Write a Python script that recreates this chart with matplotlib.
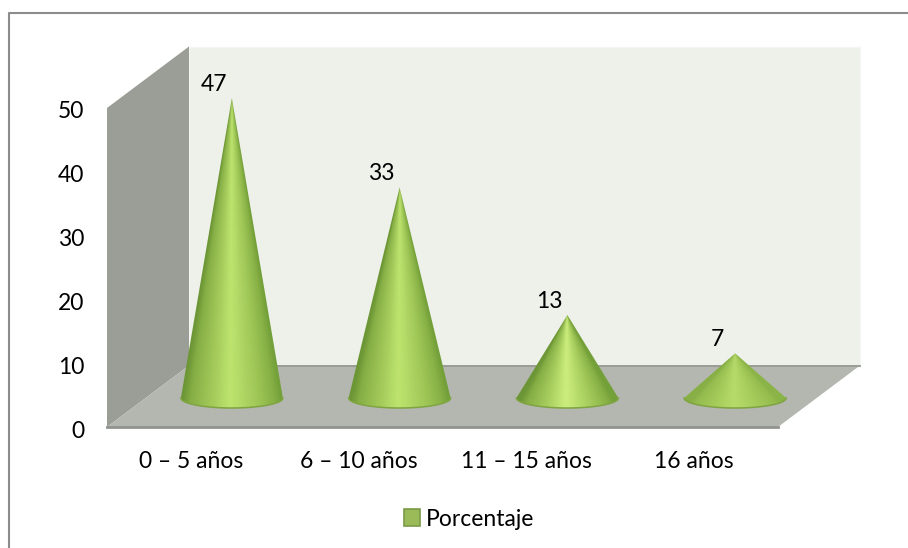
import numpy as np
import matplotlib
matplotlib.use("Agg")
import matplotlib.pyplot as plt
from matplotlib.colors import LinearSegmentedColormap, to_rgb
from matplotlib.lines import Line2D
from matplotlib.patches import Patch, Polygon
from matplotlib.transforms import ScaledTranslation

categories = ["0 – 5 años", "6 – 10 años", "11 – 15 años", "16 años"]
values = [47, 33, 13, 7]
series_name = "Porcentaje"
y_ticks = [0, 10, 20, 30, 40, 50]

plt.rcParams["font.family"] = ["Lato", "DejaVu Sans"]
W, H = 908, 548
FS = 16.5
fig = plt.figure(figsize=(W / 100, H / 100), dpi=100, facecolor="white")
ax = fig.add_axes([107 / W, 1 - 427 / H, (778 - 107) / W, (427 - 108) / H])
ax.set_xlim(-0.5, 3.5)
ax.set_ylim(0, 50)
ax.set_facecolor("none")
for s in ax.spines.values():
    s.set_visible(False)

# depth of the 3-D box, in data units
dx = 82 / (671 / 4)
dy = 61.5 / (319 / 50)
x0, x1, ymax = -0.5, 3.5, 50

ax.add_patch(Polygon([(x0 + dx, dy), (x1 + dx, dy), (x1 + dx, ymax + dy), (x0 + dx, ymax + dy)],
                     fc="#eef1ea", ec="#f4f6f1", lw=1, clip_on=False, zorder=1))
ax.add_patch(Polygon([(x0, 0), (x0 + dx, dy), (x0 + dx, ymax + dy), (x0, ymax)],
                     fc="#9b9d97", ec="none", clip_on=False, zorder=2))
ax.add_patch(Polygon([(x0, 0), (x1, 0), (x1 + dx, dy), (x0 + dx, dy)],
                     fc="#b3b7af", ec="none", clip_on=False, zorder=2))
ax.plot([x0 + dx, x1 + dx], [dy, dy], color="#979a94", lw=1.3, clip_on=False, zorder=3)
ax.plot([x0, x1], [0, 0], color="#909390", lw=2, clip_on=False, zorder=3)

stops = [(0.0, "#6d9636"), (0.08, "#85ae45"), (0.3, "#a3ca5a"), (0.48, "#bee46f"),
         (0.56, "#b6dc69"), (0.75, "#a0c858"), (0.92, "#88b146"), (1.0, "#74a03a")]
cone_map = LinearSegmentedColormap.from_list("cone", stops)

half_w = 51 / (671 / 4)
half_h = 10 / (319 / 50)
cx_off = dx / 2
base_y = 29 / (319 / 50)

for i, v in enumerate(values):
    cx = i + cx_off
    apex = base_y + v
    th = np.linspace(np.pi, 2 * np.pi, 60)
    rim_x = cx + half_w * np.cos(th)
    rim_y = base_y + half_h * np.sin(th)
    outline = np.column_stack([np.r_[rim_x, cx], np.r_[rim_y, apex]])
    # shading follows the surface of the cone
    xs = np.linspace(-1, 1, 300)
    ts = np.linspace(1, 0, 400)
    X, T = np.meshgrid(xs, ts)
    U = np.clip(X / np.maximum(1 - T, 1e-3), -1, 1)
    rgba = cone_map((U + 1) / 2)[..., :3]
    squat = 0.35 if v < 20 else 0
    rgba = rgba + squat * (np.array(to_rgb("#e6ff9a")) - rgba) * ((1 - np.abs(U)) ** 3)[..., None]
    if v < 10:
        rgba = rgba * 0.5 + np.array(to_rgb("#a3c957")) * 0.5
    im = ax.imshow(rgba, extent=[cx - half_w, cx + half_w, base_y - half_h, apex],
                   aspect="auto", interpolation="bilinear", zorder=4)
    poly = Polygon(outline, closed=True, fc="none", ec="none", transform=ax.transData)
    ax.add_patch(poly)
    im.set_clip_path(poly)
    im.set_clip_box(fig.bbox)
    ax.plot(rim_x, rim_y, color="#7fa441", lw=1.1, zorder=5, clip_on=False)
    ax.annotate(str(v), xy=(cx, apex), xytext=(-13, 10), textcoords="offset points",
                ha="center", va="center", fontsize=FS, color="black", zorder=6,
                annotation_clip=False)

ax.set_xlim(-0.5, 3.5)
ax.set_ylim(0, 50)
ax.set_xticks(range(len(categories)), categories)
ax.set_yticks(y_ticks)
ax.tick_params(axis="y", length=0, pad=16.5, labelsize=FS, labelcolor="black")
ax.tick_params(axis="x", length=0, pad=17.5, labelsize=FS, labelcolor="black")
shift = ScaledTranslation(0, -2 / 100, fig.dpi_scale_trans)
for lab in ax.get_yticklabels():
    lab.set_transform(lab.get_transform() + shift)

handle = Patch(fc="#9bbb59", ec="#7b9a48", lw=1.2, label=series_name)
fig.legend(handles=[handle], loc="center", bbox_to_anchor=(469 / W, 1 - 519 / H),
           frameon=False, fontsize=FS, handlelength=0.7, handleheight=0.7,
           handletextpad=0.25, borderpad=0)

fig.add_artist(Line2D([8.5 / W, 8.5 / W, 1], [0, 1 - 13 / H, 1 - 13 / H],
                      color="#8c8c8c", lw=1.5, transform=fig.transFigure))

fig.savefig("out.png", dpi=100, facecolor="white")
